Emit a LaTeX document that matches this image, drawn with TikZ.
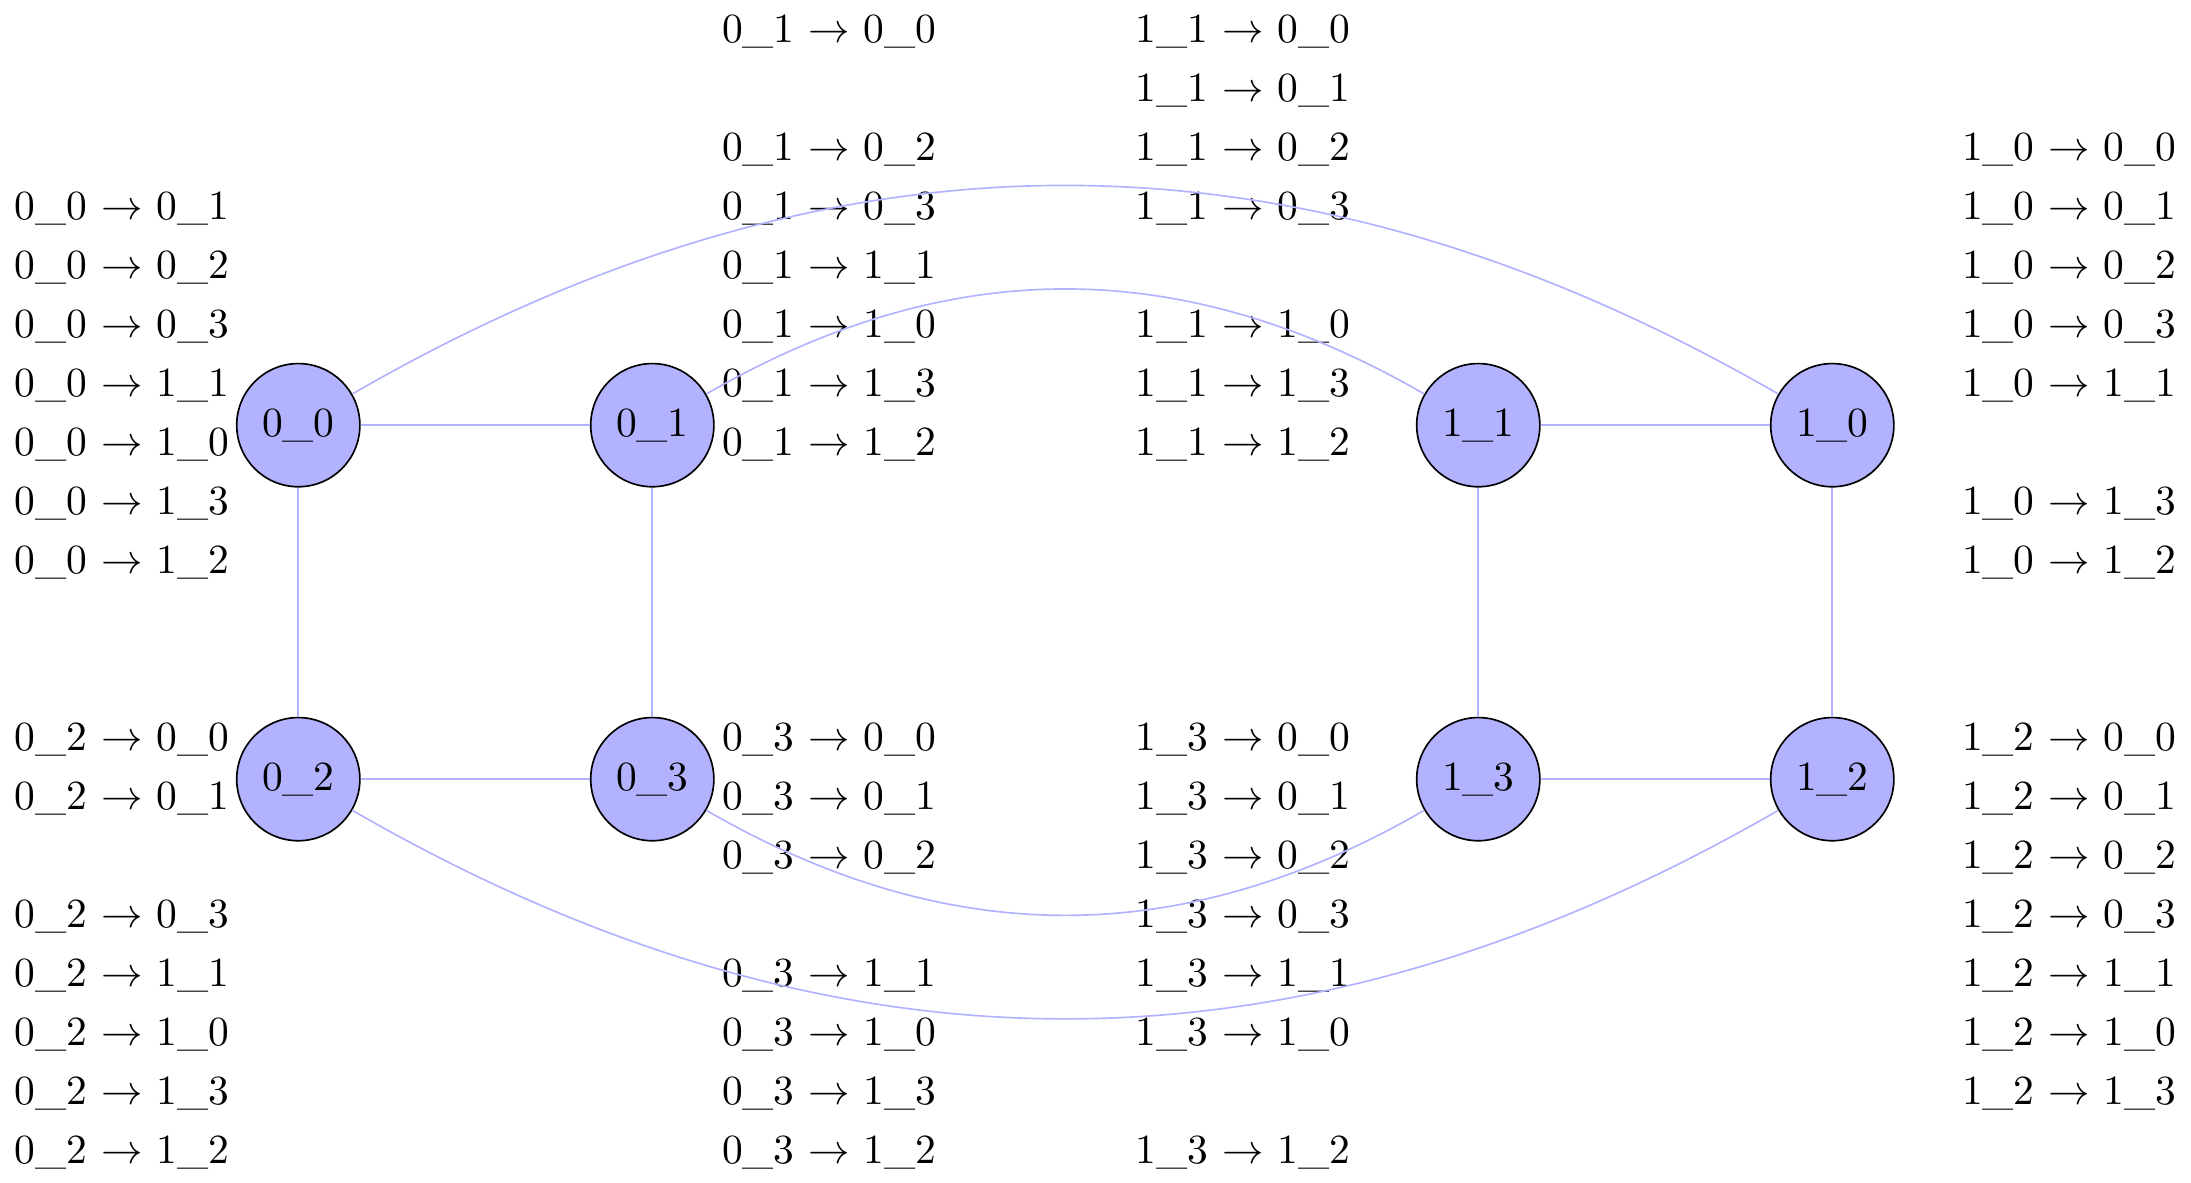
\documentclass[tikz,border=0pt]{standalone}
\begin{document}
\begin{tikzpicture}[x=1cm,y=1cm]
\tikzset{
  vert/.style={circle, draw=black, fill=blue!30, minimum size=29.7pt, inner sep=0pt},
  edgeline/.style={draw=blue!30},
  labl/.style={inner sep=0pt, anchor=base west},
  labr/.style={inner sep=0pt, anchor=base east},
}
\newcommand{\ar}{$\rightarrow$}
\useasboundingbox (-2.528,-6.414) rectangle (16.040,3.603);
% graph nodes
\node[vert] (n00) at (0,0) {0\_0};
\node[vert] (n01) at (3,0) {0\_1};
\node[vert] (n11) at (10,0) {1\_1};
\node[vert] (n10) at (13,0) {1\_0};
\node[vert] (n02) at (0,-3) {0\_2};
\node[vert] (n03) at (3,-3) {0\_3};
\node[vert] (n13) at (10,-3) {1\_3};
\node[vert] (n12) at (13,-3) {1\_2};
% labels of 0_0
\node[labl] (a01) at (-2.411,1.747) {0\_0 \ar{} 0\_1};
\node[labl] (a02) at (-2.411,1.247) {0\_0 \ar{} 0\_2};
\node[labl] (a03) at (-2.411,0.747) {0\_0 \ar{} 0\_3};
\node[labl] (a11) at (-2.411,0.247) {0\_0 \ar{} 1\_1};
\node[labl] (a10) at (-2.411,-0.253) {0\_0 \ar{} 1\_0};
\node[labl] (a13) at (-2.411,-0.753) {0\_0 \ar{} 1\_3};
\node[labl] (a12) at (-2.411,-1.253) {0\_0 \ar{} 1\_2};
% labels of 0_2
\node[labl] (c00) at (-2.411,-2.753) {0\_2 \ar{} 0\_0};
\node[labl] (c01) at (-2.411,-3.253) {0\_2 \ar{} 0\_1};
\node[labl] (c03) at (-2.411,-4.253) {0\_2 \ar{} 0\_3};
\node[labl] (c11) at (-2.411,-4.753) {0\_2 \ar{} 1\_1};
\node[labl] (c10) at (-2.411,-5.253) {0\_2 \ar{} 1\_0};
\node[labl] (c13) at (-2.411,-5.753) {0\_2 \ar{} 1\_3};
\node[labl] (c12) at (-2.411,-6.253) {0\_2 \ar{} 1\_2};
% labels of 0_1
\node[labl] (b00) at (3.585,3.247) {0\_1 \ar{} 0\_0};
\node[labl] (b02) at (3.585,2.247) {0\_1 \ar{} 0\_2};
\node[labl] (b03) at (3.585,1.747) {0\_1 \ar{} 0\_3};
\node[labl] (b11) at (3.585,1.247) {0\_1 \ar{} 1\_1};
\node[labl] (b10) at (3.585,0.747) {0\_1 \ar{} 1\_0};
\node[labl] (b13) at (3.585,0.247) {0\_1 \ar{} 1\_3};
\node[labl] (b12) at (3.585,-0.253) {0\_1 \ar{} 1\_2};
% labels of 0_3
\node[labl] (d00) at (3.585,-2.753) {0\_3 \ar{} 0\_0};
\node[labl] (d01) at (3.585,-3.253) {0\_3 \ar{} 0\_1};
\node[labl] (d02) at (3.585,-3.753) {0\_3 \ar{} 0\_2};
\node[labl] (d11) at (3.585,-4.753) {0\_3 \ar{} 1\_1};
\node[labl] (d10) at (3.585,-5.253) {0\_3 \ar{} 1\_0};
\node[labl] (d13) at (3.585,-5.753) {0\_3 \ar{} 1\_3};
\node[labl] (d12) at (3.585,-6.253) {0\_3 \ar{} 1\_2};
% labels of 1_1
\node[labl] (e00) at (7.090,3.247) {1\_1 \ar{} 0\_0};
\node[labl] (e01) at (7.090,2.747) {1\_1 \ar{} 0\_1};
\node[labl] (e02) at (7.090,2.247) {1\_1 \ar{} 0\_2};
\node[labl] (e03) at (7.090,1.747) {1\_1 \ar{} 0\_3};
\node[labl] (e10) at (7.090,0.747) {1\_1 \ar{} 1\_0};
\node[labl] (e13) at (7.090,0.247) {1\_1 \ar{} 1\_3};
\node[labl] (e12) at (7.090,-0.253) {1\_1 \ar{} 1\_2};
% labels of 1_3
\node[labl] (g00) at (7.090,-2.753) {1\_3 \ar{} 0\_0};
\node[labl] (g01) at (7.090,-3.253) {1\_3 \ar{} 0\_1};
\node[labl] (g02) at (7.090,-3.753) {1\_3 \ar{} 0\_2};
\node[labl] (g03) at (7.090,-4.253) {1\_3 \ar{} 0\_3};
\node[labl] (g11) at (7.090,-4.753) {1\_3 \ar{} 1\_1};
\node[labl] (g10) at (7.090,-5.253) {1\_3 \ar{} 1\_0};
\node[labl] (g12) at (7.090,-6.253) {1\_3 \ar{} 1\_2};
% labels of 1_0
\node[labr] (f00) at (15.923,2.247) {1\_0 \ar{} 0\_0};
\node[labr] (f01) at (15.923,1.747) {1\_0 \ar{} 0\_1};
\node[labr] (f02) at (15.923,1.247) {1\_0 \ar{} 0\_2};
\node[labr] (f03) at (15.923,0.747) {1\_0 \ar{} 0\_3};
\node[labr] (f11) at (15.923,0.247) {1\_0 \ar{} 1\_1};
\node[labr] (f13) at (15.923,-0.753) {1\_0 \ar{} 1\_3};
\node[labr] (f12) at (15.923,-1.253) {1\_0 \ar{} 1\_2};
% labels of 1_2
\node[labr] (h00) at (15.923,-2.753) {1\_2 \ar{} 0\_0};
\node[labr] (h01) at (15.923,-3.253) {1\_2 \ar{} 0\_1};
\node[labr] (h02) at (15.923,-3.753) {1\_2 \ar{} 0\_2};
\node[labr] (h03) at (15.923,-4.253) {1\_2 \ar{} 0\_3};
\node[labr] (h11) at (15.923,-4.753) {1\_2 \ar{} 1\_1};
\node[labr] (h10) at (15.923,-5.253) {1\_2 \ar{} 1\_0};
\node[labr] (h13) at (15.923,-5.753) {1\_2 \ar{} 1\_3};
% edges
\draw[edgeline] (n00) -- (n01);
\draw[edgeline] (n00) -- (n02);
\draw[edgeline] (n01) -- (n03);
\draw[edgeline] (n02) -- (n03);
\draw[edgeline] (n11) -- (n10);
\draw[edgeline] (n11) -- (n13);
\draw[edgeline] (n10) -- (n12);
\draw[edgeline] (n13) -- (n12);
\draw[edgeline] (n00) to[bend left=30] (n10);
\draw[edgeline] (n01) to[bend left=30] (n11);
\draw[edgeline] (n02) to[bend right=30] (n12);
\draw[edgeline] (n03) to[bend right=30] (n13);
\end{tikzpicture}
\end{document}
